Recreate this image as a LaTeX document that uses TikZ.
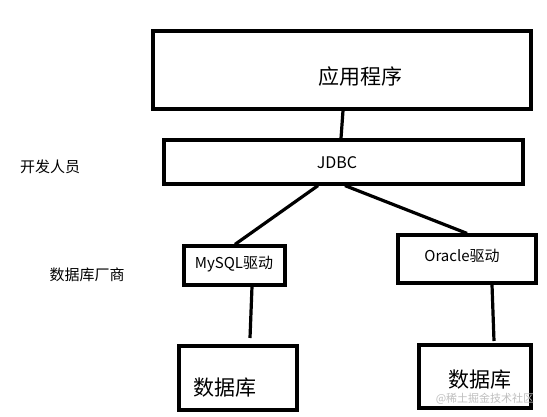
\documentclass[tikz,border=0pt]{standalone}
\usepackage{fontspec}
\setmainfont{Noto Sans CJK SC}
\begin{document}
\begin{tikzpicture}[x=1pt,y=-1pt,
  box/.style={draw=black,line width=3.2pt,fill=white},
  conn/.style={draw=black,line width=3.2pt},
  lbl/.style={inner sep=0pt,text=black}]
\useasboundingbox (0,0) rectangle (547,416);
% boxes
\path[box] (153,31) rectangle (531,109);
\node[lbl,font=\fontsize{21}{24}\selectfont] (app) at (360,77) {应用程序};
\path[box] (164,140) rectangle (523,184);
\node[lbl,font=\fontsize{16}{19}\selectfont] (jdbc) at (337,163) {JDBC};
\path[box] (184,246) rectangle (285,285);
\node[lbl,font=\fontsize{15}{18}\selectfont] (mysql) at (234,264) {MySQL驱动};
\path[box] (398,235) rectangle (536,283);
\node[lbl,font=\fontsize{15}{18}\selectfont] (oracle) at (462,256) {Oracle驱动};
\path[box] (179,346) rectangle (297,410);
\node[lbl,font=\fontsize{21}{24}\selectfont] (db1) at (225,388) {数据库};
\path[box] (419,345) rectangle (531,408);
\node[lbl,font=\fontsize{21}{24}\selectfont] (db2) at (480,380) {数据库};
% connector end points
\coordinate (a1) at (343,110.6);
\coordinate (j1) at (341,138.4);
\coordinate (j2) at (318,185.6);
\coordinate (m1) at (235,244.4);
\coordinate (j3) at (345,185.6);
\coordinate (o1) at (467,233.4);
\coordinate (m2) at (252,286.6);
\coordinate (d1) at (250,338);
\coordinate (o2) at (492,284.6);
\coordinate (d2) at (494,341);
\draw[conn] (a1) -- (j1);
\draw[conn] (j2) -- (m1);
\draw[conn] (j3) -- (o1);
\draw[conn] (m2) -- (d1);
\draw[conn] (o2) -- (d2);
% side labels
\node[lbl,font=\fontsize{15}{18}\selectfont] (dev) at (50,167) {开发人员};
\node[lbl,font=\fontsize{15}{18}\selectfont] (vendor) at (87,275) {数据库厂商};
% watermark
\node[lbl,text=black!25,font=\fontsize{11}{13}\selectfont] (wm) at (485,399) {@稀土掘金技术社区};
\end{tikzpicture}
\end{document}
